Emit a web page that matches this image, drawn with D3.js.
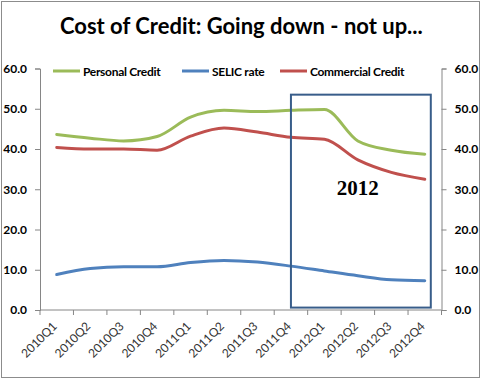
<!DOCTYPE html>
<html><head><meta charset="utf-8">
<script src="https://cdn.jsdelivr.net/npm/d3@7/dist/d3.min.js"></script>
<style>body{margin:0;background:#fff}svg{display:block}</style>
</head><body>
<script>
const categories = ["2010Q1","2010Q2","2010Q3","2010Q4","2011Q1","2011Q2","2011Q3","2011Q4","2012Q1","2012Q2","2012Q3","2012Q4"];
const personalCredit = [43.6,42.7,42.0,43.1,47.9,49.6,49.3,49.6,49.8,42.0,39.7,38.7];
const selicRate = [8.8,10.3,10.75,10.75,11.8,12.3,11.9,10.9,9.7,8.5,7.5,7.25];
const commercialCredit = [40.4,40.0,40.0,39.7,43.2,45.2,44.2,42.9,42.4,37.3,34.2,32.5];
const yTicks = [0,10,20,30,40,50,60];
const seriesNames = ["Personal Credit","SELIC rate","Commercial Credit"];
const seriesColors = ["#9BBB59","#4F81BD","#C0504D"];
const titleText = "Cost of Credit: Going down - not up...";
const boxLabel = "2012";
const boxFrom = "2011Q4", boxTo = "2012Q4", boxTop = 53.5, boxBottom = 0.6;

const W = 482, H = 380;
const L = 40, R = 441.5, T = 68.5, B = 310;
const svg = d3.select("body").append("svg").attr("width", W).attr("height", H);
svg.append("rect").attr("x",1.5).attr("y",1.5).attr("width",478).attr("height",376)
  .attr("fill","#fff").attr("stroke","#8c8c8c").attr("stroke-width",1);

const x = d3.scaleBand().domain(categories).range([L, R]);
const y = d3.scaleLinear().domain([0,60]).range([B, T]);
const cx = c => x(c) + x.bandwidth()/2;

// title
const title = svg.append("text").attr("x", 60).attr("y", 34)
  .attr("font-family","Lato, 'Open Sans', sans-serif").attr("font-weight","bold")
  .attr("font-size",20).attr("fill","#000").text(titleText);
{ const w = title.node().getComputedTextLength(); title.attr("font-size", 20*363/w); }

// axes
const axisColor = "#868686";
const fmt = d3.format(".1f");
const yl = svg.append("g").attr("transform",`translate(${L},0)`)
  .call(d3.axisLeft(y).tickValues(yTicks).tickFormat(fmt).tickSize(5).tickPadding(8));
const yr = svg.append("g").attr("transform",`translate(${R},0)`)
  .call(d3.axisRight(y).tickValues(yTicks).tickFormat(fmt).tickSize(5).tickPadding(8));
const xa = svg.append("g").attr("transform",`translate(0,${B})`)
  .call(d3.axisBottom(x).tickSize(0).tickFormat(""));
const bounds = categories.map(c => x(c)).concat([R]);
xa.selectAll(".bt").data(bounds).enter().append("line")
  .attr("x1",d=>d).attr("x2",d=>d).attr("y1",0).attr("y2",5).attr("stroke",axisColor);
[yl,yr,xa].forEach(g=>{
  g.select(".domain").attr("stroke",axisColor).attr("stroke-width",1);
  g.selectAll(".tick line").attr("stroke",axisColor);
  g.selectAll("text").attr("font-family","Lato, sans-serif").attr("font-weight","bold")
   .attr("font-size",12).attr("fill","#000");
});
xa.select(".domain").attr("d",`M${L},0H${R}`);
svg.append("g").selectAll("text").data(categories).enter().append("text")
  .attr("transform",d=>`translate(${cx(d)+1},${B+17}) rotate(-45)`)
  .attr("text-anchor","end").attr("font-family","Lato, sans-serif").attr("font-size",12)
  .attr("fill","#333").text(d=>d);

// lines
const line = d3.line().x((d,i)=>cx(categories[i])).y(d=>y(d)).curve(d3.curveMonotoneX);
const allSeries = [personalCredit, selicRate, commercialCredit];
allSeries.forEach((s,i)=>{
  svg.append("path").datum(s).attr("d",line).attr("fill","none")
    .attr("stroke",seriesColors[i]).attr("stroke-width",3).attr("stroke-linejoin","round").attr("stroke-linecap","round");
});

// box annotation
const bx0 = cx(boxFrom), bx1 = cx(boxTo) + x.bandwidth()*0.18;
svg.append("rect").attr("x",bx0).attr("y",y(boxTop)).attr("width",bx1-bx0).attr("height",y(boxBottom)-y(boxTop))
  .attr("fill","none").attr("stroke","#385D8A").attr("stroke-width",2);
svg.append("text").attr("x",cx("2012Q2")).attr("y",y(28.5))
  .attr("text-anchor","middle").attr("font-family","'Liberation Serif', serif").attr("font-weight","bold")
  .attr("font-size",21).attr("fill","#000").text(boxLabel);

// legend
const legX = [53, 182, 280];
const legY = 71;
seriesNames.forEach((n,i)=>{
  const g = svg.append("g");
  g.append("line").attr("x1",legX[i]).attr("x2",legX[i]+27).attr("y1",legY).attr("y2",legY)
    .attr("stroke",seriesColors[i]).attr("stroke-width",3);
  g.append("text").attr("x",legX[i]+30).attr("y",legY+4.5).attr("font-family","Lato, sans-serif")
    .attr("font-weight","bold").attr("font-size",12).attr("letter-spacing",-0.3).attr("fill","#000").text(n);
});
</script>
</body></html>
